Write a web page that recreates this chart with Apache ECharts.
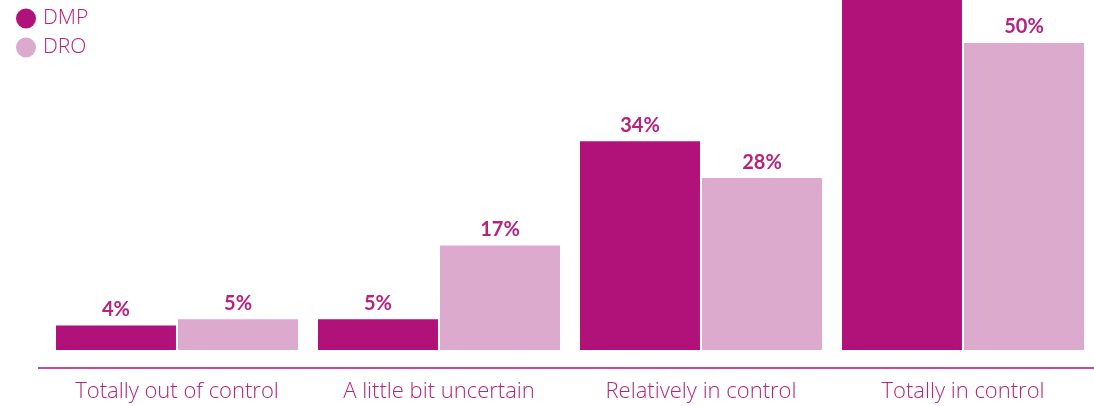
<!DOCTYPE html>
<html>
<head>
<meta charset="utf-8">
<script src="https://cdn.jsdelivr.net/npm/echarts@6/dist/echarts.min.js"></script>
<style>
  html, body { margin: 0; padding: 0; background: #ffffff; }
  #chart { width: 1094px; height: 406px; }
</style>
</head>
<body>
<div id="chart"></div>
<script>
// Perceived sense of control, by group (percent of respondents)
const categories = ['Totally out of control', 'A little bit uncertain', 'Relatively in control', 'Totally in control'];
const dmpValues = [4, 5, 34, 57];
const droValues = [5, 17, 28, 50];
const seriesNames = ['DMP', 'DRO'];

const DARK = '#b0127a';
const LIGHT = '#dbaacd';
const TEXT = '#b5237f';

const chart = echarts.init(document.getElementById('chart'));

const labelStyle = {
  show: true,
  position: 'top',
  distance: 6,
  formatter: '{c}%',
  color: TEXT,
  fontFamily: 'Lato',
  fontWeight: 'bold',
  fontSize: 20
};

chart.setOption({
  animation: false,
  backgroundColor: '#ffffff',
  legend: {
    orient: 'vertical',
    left: 11,
    top: 3,
    icon: 'circle',
    itemWidth: 20,
    itemHeight: 20,
    itemGap: 8,
    textStyle: { color: TEXT, fontFamily: 'Open Sans', fontWeight: 300, fontSize: 21, padding: [0, 0, 0, 2] },
    data: seriesNames
  },
  grid: { left: 46, right: 0, top: 0, bottom: 56, containLabel: false },
  xAxis: {
    type: 'category',
    data: categories,
    offset: 18,
    axisLine: { show: false },
    axisTick: { show: false },
    axisLabel: { interval: 0, color: TEXT, fontFamily: 'Open Sans', fontWeight: 300, fontSize: 22, margin: 13 }
  },
  yAxis: {
    type: 'value',
    min: 0,
    max: 57,
    show: false,
    splitLine: { show: false }
  },
  graphic: [{
    type: 'line',
    shape: { x1: 38, y1: 368, x2: 1094, y2: 368 },
    style: { stroke: DARK, lineWidth: 1.5 }
  }],
  series: [
    {
      name: seriesNames[0],
      type: 'bar',
      data: dmpValues,
      barWidth: 120,
      barGap: '1.7%',
      itemStyle: { color: DARK },
      label: labelStyle
    },
    {
      name: seriesNames[1],
      type: 'bar',
      data: droValues,
      barWidth: 120,
      itemStyle: { color: LIGHT },
      label: labelStyle
    }
  ]
});
</script>
</body>
</html>
